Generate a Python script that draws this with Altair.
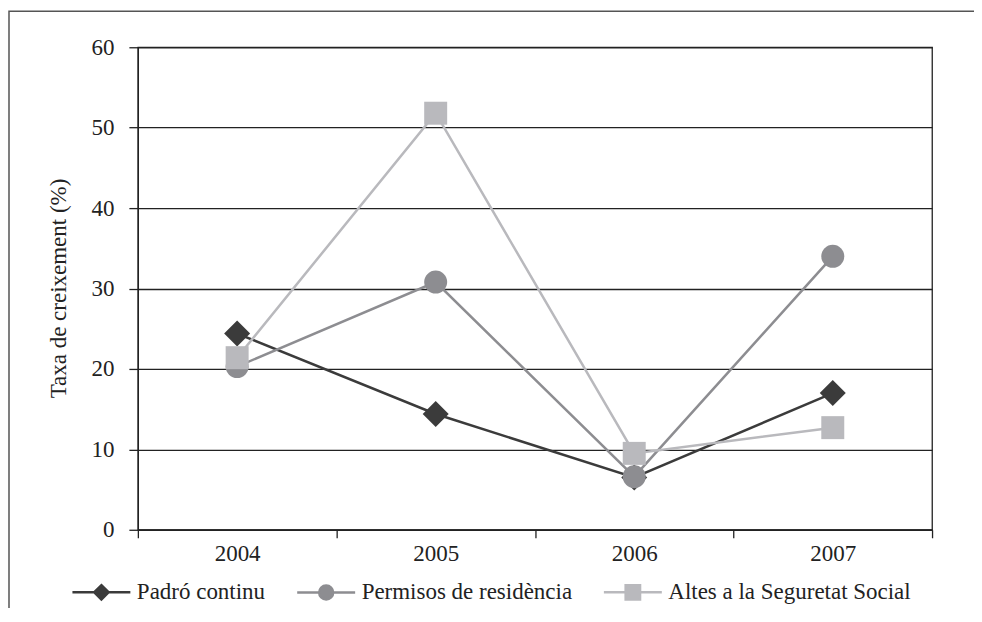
import altair as alt
import pandas as pd

years = ["2004", "2005", "2006", "2007"]
series_names = ["Padró continu", "Permisos de residència", "Altes a la Seguretat Social"]
padro = [24.4, 14.4, 6.5, 17.0]
permisos = [20.3, 30.8, 6.6, 34.0]
altes = [21.4, 51.8, 9.5, 12.7]

colors = ["#3b3b3b", "#8d8d91", "#b9b9bd"]
shapes = ["diamond", "circle", "square"]
marker_sizes = [676, 529, 529]
legend_paths = [
    "M-2.9 0H2.9M0 -0.72L0.72 0L0 0.72L-0.72 0Z",
    "M-2.9 0H2.9M0.7 0A0.7 0.7 0 1 1 -0.7 0A0.7 0.7 0 1 1 0.7 0Z",
    "M-2.9 0H2.9M-0.72 -0.72H0.72V0.72H-0.72Z",
]

FONT = "Liberation Serif"
FS = 23
values = [padro, permisos, altes]
rows = []
for name, vals in zip(series_names, values):
    for y, v in zip(years, vals):
        rows.append({"any": y, "serie": name, "taxa": v})
df = pd.DataFrame(rows)

x_enc = alt.X(
    "any:O",
    sort=years,
    scale=alt.Scale(type="band", domain=years, paddingInner=0, paddingOuter=0),
    axis=alt.Axis(
        title=None, labelAngle=0, tickBand="extent", tickSize=8, labelPadding=5,
        domainColor="#222", domainWidth=1.3, tickColor="#222", tickWidth=1.3,
        labelFont=FONT, labelFontSize=FS, labelColor="#222", grid=False,
    ),
)
y_enc = alt.Y(
    "taxa:Q",
    scale=alt.Scale(domain=[0, 60], nice=False),
    axis=alt.Axis(
        title="Taxa de creixement (%)", values=[0, 10, 20, 30, 40, 50, 60],
        tickSize=9, labelPadding=15, grid=True, gridColor="#222", gridWidth=1.3,
        domainColor="#222", domainWidth=1.3, tickColor="#222", tickWidth=1.3,
        labelFont=FONT, labelFontSize=FS, labelColor="#222",
        titleFont=FONT, titleFontSize=FS, titleFontWeight="normal", titleColor="#222",
        titleX=-79, titleY=241, titleBaseline="middle", titleAlign="center", titleAngle=270,
    ),
)

base = alt.Chart(df)
layers = []

frame = alt.Chart(pd.DataFrame({"k": [1]})).mark_rect(
    fill=None, stroke="#555", strokeWidth=1.5
).encode(
    x=alt.value(-129), x2=alt.value(900), y=alt.value(-36), y2=alt.value(640)
)
layers.append(frame)

for name, col, shp, sz in zip(series_names, colors, shapes, marker_sizes):
    sub = base.transform_filter(alt.datum.serie == name)
    layers.append(sub.mark_line(color=col, strokeWidth=2.5).encode(x=x_enc, y=y_enc))
    layers.append(
        sub.mark_point(filled=True, shape=shp, size=sz, color=col, opacity=1, strokeWidth=0)
        .encode(x=x_enc, y=y_enc)
    )

legend_layer = base.transform_filter("false").mark_point(
    filled=True, size=400, opacity=1, strokeWidth=2.5
).encode(
    x=x_enc,
    y=y_enc,
    fill=alt.Fill("serie:N", scale=alt.Scale(domain=series_names, range=colors),
                  legend=alt.Legend(title=None)),
    stroke=alt.Stroke("serie:N", scale=alt.Scale(domain=series_names, range=colors),
                      legend=alt.Legend(title=None)),
    shape=alt.Shape("serie:N", scale=alt.Scale(domain=series_names, range=legend_paths),
                    legend=alt.Legend(title=None)),
)
layers.append(legend_layer)

chart = alt.layer(*layers).properties(
    width=795, height=483,
    autosize=alt.AutoSizeParams(type="none"),
    padding={"left": 130, "top": 39, "right": 42, "bottom": 78},
).configure_view(
    stroke="#222", strokeWidth=1.3
).configure_legend(
    orient="none", legendX=-48, legendY=534, direction="horizontal",
    labelFont=FONT, labelFontSize=FS, labelColor="#222", labelOffset=24,
    symbolOffset=0, columnPadding=26, padding=0, symbolSize=400, symbolStrokeWidth=2.5,
    labelLimit=400,
)

chart.save("out.html", embed_options={"renderer": "svg", "actions": False})
